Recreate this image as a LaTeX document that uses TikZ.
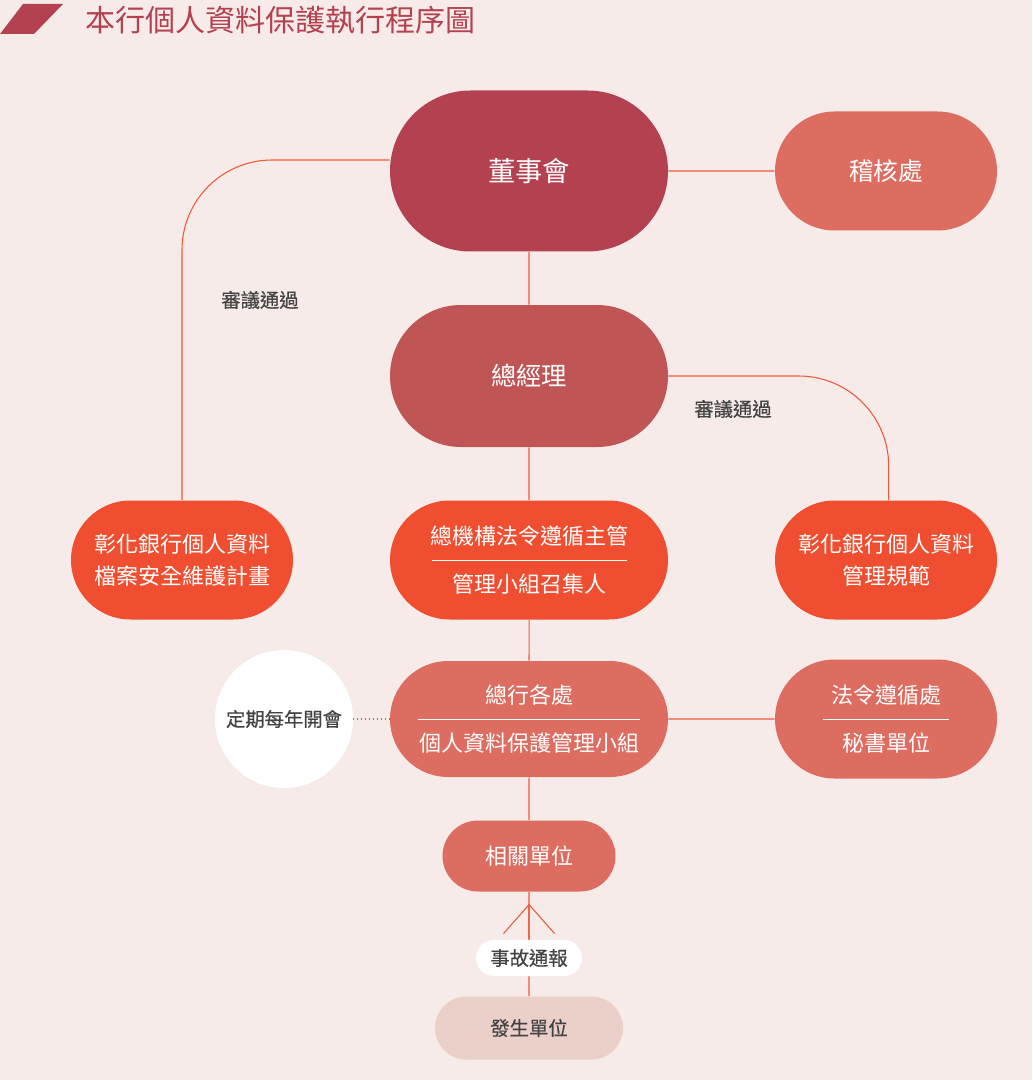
\documentclass[tikz,border=0pt]{standalone}
\usepackage{fontspec}
\setmainfont{Noto Sans CJK TC}
\newfontfamily\lblfont{Noto Sans CJK TC}[FakeBold=0.6]
\usetikzlibrary{arrows.meta,positioning,calc,shapes.misc}
\definecolor{bgc}{RGB}{247,235,233}
\definecolor{dkc}{RGB}{180,65,80}
\definecolor{mdc}{RGB}{192,85,86}
\definecolor{orc}{RGB}{240,78,48}
\definecolor{slc}{RGB}{221,109,96}
\definecolor{pac}{RGB}{235,208,202}
\definecolor{lnc}{RGB}{240,88,58}
\definecolor{txc}{RGB}{68,68,68}
\tikzset{dk/.style={rounded rectangle,fill=dkc,text=white,inner sep=0pt,minimum width=208.5pt,minimum height=120.75pt,font=\fontsize{20.5pt}{24pt}\selectfont},
 mdr/.style={dk,fill=mdc,minimum height=106.5pt,font=\fontsize{19pt}{24pt}\selectfont},
 orn/.style={dk,fill=orc,minimum height=89.25pt,align=center,font=\fontsize{16.5pt}{36pt}\selectfont},
 sal/.style={orn,fill=slc,minimum height=87pt},
 side/.style={orn,minimum width=166.5pt},
 pale/.style={dk,fill=pac,text=txc,minimum width=141pt,minimum height=47.25pt,font=\lblfont\fontsize{14.5pt}{18pt}\selectfont},
 tag/.style={pale,fill=white,minimum width=79.5pt,minimum height=27pt},
 lbl/.style={text=txc,font=\lblfont\fontsize{14.5pt}{18pt}\selectfont},
 wire/.style={draw=lnc,line width=.8pt},dot/.style={wire,dash pattern=on .8pt off 2.2pt},
 divl/.style={draw=white,line width=.75pt}}
\begin{document}
\begin{tikzpicture}[x=.75pt,y=-.75pt]
\fill[bgc] (0,0) rectangle (1032,1080);
\fill[dkc] (23,4) -- (63,4) -- (34,34) -- (0,34) -- cycle;
\node[anchor=west,text=dkc,inner sep=0pt,font=\fontsize{22.5pt}{26pt}\selectfont] (ttl) at (85,20) {本行個人資料保護執行程序圖};
\node[dk] (bd) at (529,171) {董事會};
\node[side,fill=slc,font=\fontsize{18.5pt}{24pt}\selectfont] (au) at (886,171) {稽核處};
\node[mdr] (gm) at (529,376) {總經理};
\node[side,font=\fontsize{16.5pt}{24pt}\selectfont] (pl) at (182,560) {彰化銀行個人資料\\檔案安全維護計畫};
\node[orn] (cc) at (529,560) {總機構法令遵循主管\\管理小組召集人};
\node[side,font=\fontsize{16.5pt}{24pt}\selectfont] (ru) at (886,560) {彰化銀行個人資料\\管理規範};
\node[sal] (hq) at (529,719) {總行各處\\個人資料保護管理小組};
\node[side,fill=slc] (cs) at (886,719) {法令遵循處\\秘書單位};
\node[circle,fill=white,text=txc,minimum size=103.5pt,inner sep=0pt,font=\lblfont\fontsize{14.5pt}{18pt}\selectfont] (mt) at (284,719) {定期每年開會};
\node[sal,minimum width=129.75pt,minimum height=53.25pt] (rel) at (529,856) {相關單位};
\node[tag] (rp) at (529,958) {事故通報};
\node[pale] (oc) at (529,1028) {發生單位};
\node[lbl] (ap1) at (260,300) {審議通過};
\node[lbl] (ap2) at (733,409) {審議通過};
\draw[divl] ($(cc.center)+(-97,0)$) -- ($(cc.center)+(98,0)$);
\draw[divl] ($(hq.center)+(-111,0)$) -- ($(hq.center)+(111,0)$);
\draw[divl] ($(cs.center)+(-63,0)$) -- ($(cs.center)+(63,0)$);
\draw[wire] (bd) -- (au);\draw[wire] (bd) -- (gm);
\draw[wire] (gm) -- (cc);\draw[wire] (cc) -- (hq);
\draw[wire] (hq) -- (rel);\draw[wire] (hq) -- (cs);
\draw[wire,rounded corners=67.5pt] ([yshift=8.25pt]bd.west) -| (pl.north);
\draw[wire,rounded corners=67.5pt] (gm.east) -| ([xshift=2pt]ru.north);
\draw[dot] (mt) -- (hq);
\draw[wire] (oc) -- (rp);\draw[wire] (rp) -- (rel);
\draw[wire,-{Straight Barb[length=21.75pt,width=38.25pt]},shorten >=9pt] (rp) -- (rel);
\end{tikzpicture}
\end{document}
